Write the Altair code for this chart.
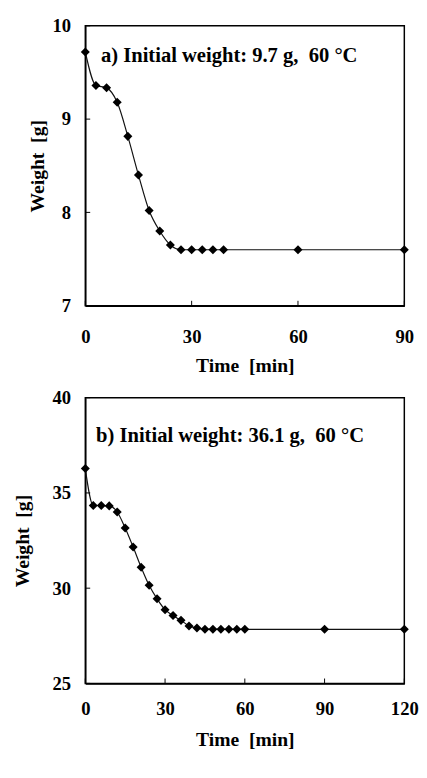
import altair as alt
import pandas as pd

# Panel a data
time_a = [0, 3, 6, 9, 12, 15, 18, 21, 24, 27, 30, 33, 36, 39, 60, 90]
weight_a = [9.72, 9.36, 9.335, 9.18, 8.815, 8.40, 8.02, 7.80, 7.65, 7.60, 7.60, 7.60, 7.60, 7.60, 7.60, 7.60]
xticks_a = [0, 30, 60, 90]
yticks_a = [7, 8, 9, 10]

# Panel b data
time_b = [0, 3, 6, 9, 12, 15, 18, 21, 24, 27, 30, 33, 36, 39, 42, 45, 48, 51, 54, 57, 60, 90, 120]
weight_b = [36.28, 34.34, 34.34, 34.32, 34.0, 33.16, 32.16, 31.1, 30.15, 29.44, 28.87, 28.56, 28.31,
            28.02, 27.91, 27.84, 27.84, 27.84, 27.84, 27.84, 27.84, 27.84, 27.84]
xticks_b = [0, 30, 60, 90, 120]
yticks_b = [25, 30, 35, 40]

label_a = "a) Initial weight: 9.7 g,\u00a0 60 \u00b0C"
label_b = "b) Initial weight: 36.1 g,\u00a0 60 \u00b0C"

FONT = "Liberation Serif"


def panel(times, weights, xt, yt, w, h, label, lx, ly, ytpad, xlp, xtp):
    df = pd.DataFrame({"t": times, "w": weights})
    xs = alt.Scale(domain=[xt[0], xt[-1]], nice=False, zero=False)
    ys = alt.Scale(domain=[yt[0], yt[-1]], nice=False, zero=False)
    xax = alt.Axis(values=xt, title="Time\u00a0 [min]", ticks=False, grid=False,
                   labelPadding=xlp, titlePadding=xtp, format="d")
    yax = alt.Axis(values=yt, title="Weight\u00a0 [g]", ticks=False, grid=False,
                   labelPadding=15, titlePadding=ytpad, format="d")
    x = alt.X("t:Q", scale=xs, axis=xax)
    y = alt.Y("w:Q", scale=ys, axis=yax)
    base = alt.Chart(df)
    line = base.mark_line(interpolate="monotone", color="#111111", strokeWidth=1.2).encode(x=x, y=y)
    pts = base.mark_point(shape="diamond", filled=True, size=85, color="black", opacity=1).encode(x=x, y=y)
    xtick = alt.Chart(pd.DataFrame({"t": xt})).mark_rule(color="black", strokeWidth=1).encode(
        x=x, y=alt.value(h), y2=alt.value(h - 5))
    ytick = alt.Chart(pd.DataFrame({"w": yt})).mark_rule(color="black", strokeWidth=1).encode(
        y=y, x=alt.value(0), x2=alt.value(5))
    txt = alt.Chart(pd.DataFrame({"lab": [label]})).mark_text(
        align="left", baseline="alphabetic", font=FONT, fontWeight="bold", fontSize=21, color="black"
    ).encode(text="lab:N", x=alt.value(lx), y=alt.value(ly))
    return alt.layer(line, pts, xtick, ytick, txt).properties(width=w, height=h)


top = panel(time_a, weight_a, xticks_a, yticks_a, 326, 286, label_a, 16, 37, 5, 23, 9)
bot = panel(time_b, weight_b, xticks_b, yticks_b, 326, 292, label_b, 11, 45, 20, 17, 11)

chart = alt.concat(top, bot, columns=1, align="none", spacing=12).configure(
    font=FONT, padding={"left": 4, "top": 0, "right": 0, "bottom": 0}
).configure_axis(
    labelFont=FONT, titleFont=FONT, labelFontWeight="bold", titleFontWeight="bold",
    labelFontSize=19, titleFontSize=20, labelColor="black", titleColor="black",
    domainColor="black", domainWidth=1.5, labelFlush=False, labelOverlap=False
).configure_view(stroke="black", strokeWidth=1.5)

chart.save("out.html", embed_options={"renderer": "svg", "actions": False})
